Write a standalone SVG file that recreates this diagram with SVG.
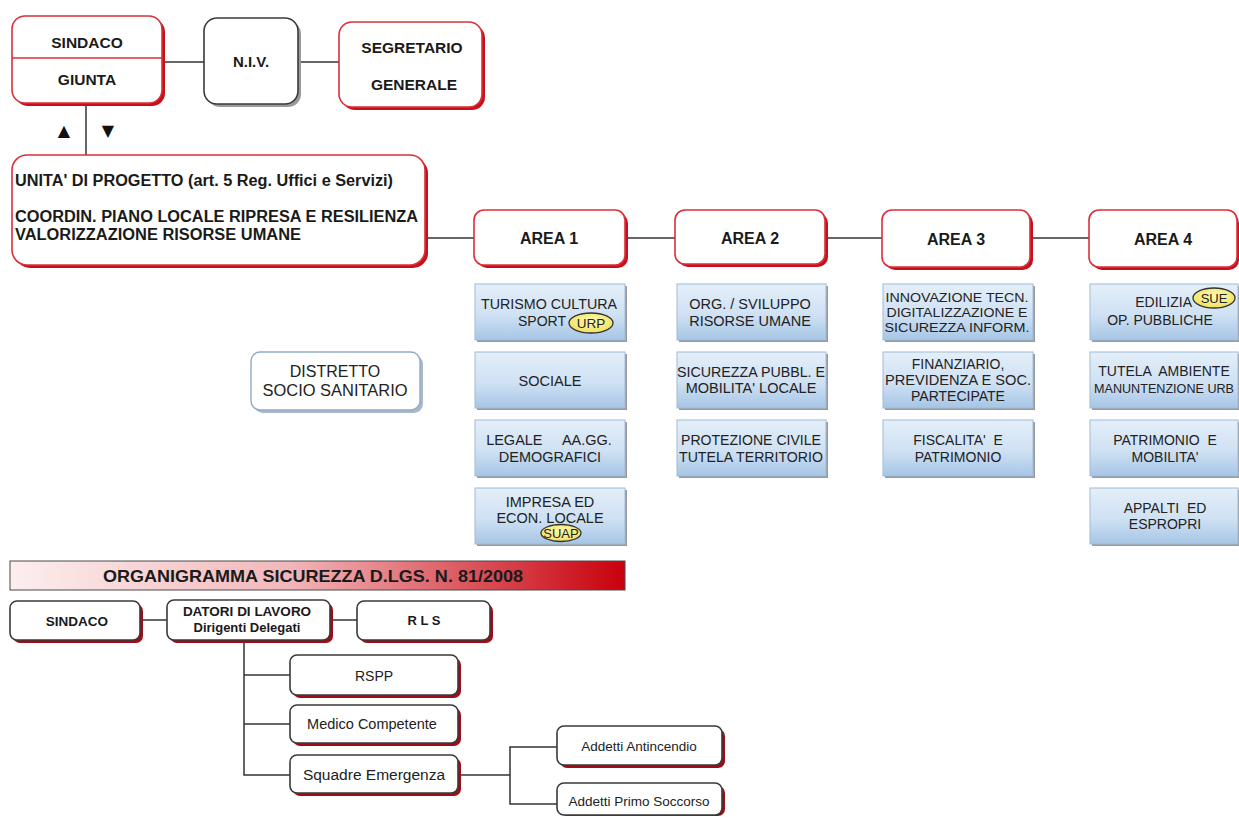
<svg xmlns="http://www.w3.org/2000/svg" width="1239" height="819" viewBox="0 0 1239 819">
<defs>
<linearGradient id="blue" x1="0" y1="0" x2="0" y2="1">
<stop offset="0" stop-color="#e4eff9"/>
<stop offset="0.55" stop-color="#cfe1f3"/>
<stop offset="1" stop-color="#a6c6e6"/>
</linearGradient>
<linearGradient id="banner" x1="0" y1="0" x2="1" y2="0">
<stop offset="0" stop-color="#fdeeee"/>
<stop offset="0.45" stop-color="#f2b8bb"/>
<stop offset="1" stop-color="#c8000c"/>
</linearGradient>
<radialGradient id="yel" cx="0.5" cy="0.4" r="0.6">
<stop offset="0" stop-color="#fffcb0"/>
<stop offset="1" stop-color="#f0e060"/>
</radialGradient>
</defs>
<style>
.bg{fill:#ffffff}
.red{fill:#ffffff;stroke:#d9303a;stroke-width:1.6}
.rsh{fill:#c8101c}
.gsh{fill:#9a9a9a}
.bsh{fill:#a9b8c8}
.dk{fill:#ffffff;stroke:#3a3a3a;stroke-width:1.6}
.dsh{fill:#9e0d16}
.blu{fill:url(#blue);stroke:#9fbcd8;stroke-width:1}
.dis{fill:#ffffff;stroke:#93aac6;stroke-width:1.4}
.ln{stroke:#333333;stroke-width:1.5;fill:none}
.tb{font-family:"Liberation Sans",Arial,sans-serif;font-weight:bold;fill:#1a1a1a;text-anchor:middle}
.tr{font-family:"Liberation Sans",Arial,sans-serif;fill:#222222;text-anchor:middle}
.bx{font-size:14.5px}
.ell{fill:url(#yel);stroke:#333333;stroke-width:1.3}
</style>
<rect x="0" y="0" width="1239" height="819" class="bg"/>

<g id="connectors">
<line class="ln" x1="162" y1="62" x2="204" y2="62"/>
<line class="ln" x1="298" y1="62" x2="339" y2="62"/>
<line class="ln" x1="86" y1="103" x2="86" y2="155"/>
<line class="ln" x1="425" y1="238" x2="474" y2="238"/>
<line class="ln" x1="625" y1="238" x2="675" y2="238"/>
<line class="ln" x1="825" y1="238" x2="882" y2="238"/>
<line class="ln" x1="1030" y1="238" x2="1089" y2="238"/>
<line class="ln" x1="140" y1="620" x2="167" y2="620"/>
<line class="ln" x1="330" y1="620" x2="357" y2="620"/>
<polyline class="ln" points="244,640 244,775 290,775"/>
<line class="ln" x1="244" y1="675" x2="290" y2="675"/>
<line class="ln" x1="244" y1="724" x2="290" y2="724"/>
<line class="ln" x1="458" y1="775" x2="510" y2="775"/>
<polyline class="ln" points="557,747 510,747 510,804 557,804"/>
</g>

<g id="arrows">
<text x="64" y="136" font-family="DejaVu Sans,sans-serif" font-size="16" text-anchor="middle" fill="#111">▲</text>
<text x="108" y="136" font-family="DejaVu Sans,sans-serif" font-size="16" text-anchor="middle" fill="#111">▼</text>
</g>

<g id="sindaco-giunta">
<rect class="rsh" x="15" y="19" width="150" height="87" rx="13"/>
<rect class="red" x="12" y="16" width="150" height="87" rx="13"/>
<line x1="12" y1="58" x2="162" y2="58" stroke="#d9303a" stroke-width="1.4"/>
<text class="tb" x="87" y="48" font-size="15.5">SINDACO</text>
<text class="tb" x="87" y="85" font-size="15.5">GIUNTA</text>
</g>

<g id="niv">
<rect class="gsh" x="207" y="21" width="94" height="86" rx="13"/>
<rect class="dk" x="204" y="18" width="94" height="86" rx="13"/>
<text class="tb" x="251" y="67" font-size="15">N.I.V.</text>
</g>

<g id="segretario">
<rect class="rsh" x="342" y="25" width="143" height="85" rx="13"/>
<rect class="red" x="339" y="22" width="143" height="85" rx="13"/>
<text class="tb" x="412" y="53" font-size="15.5">SEGRETARIO</text>
<text class="tb" x="414" y="90" font-size="15.5">GENERALE</text>
</g>

<g id="unita">
<rect class="rsh" x="15" y="158" width="413" height="110" rx="15"/>
<rect class="red" x="12" y="155" width="413" height="110" rx="15"/>
<text class="tb" x="15" y="186" font-size="16" style="text-anchor:start" textLength="378" lengthAdjust="spacingAndGlyphs">UNITA' DI PROGETTO (art. 5 Reg. Uffici e Servizi)</text>
<text class="tb" x="15" y="222" font-size="16" style="text-anchor:start" textLength="403" lengthAdjust="spacingAndGlyphs">COORDIN. PIANO LOCALE RIPRESA E RESILIENZA</text>
<text class="tb" x="15" y="240" font-size="16" style="text-anchor:start" textLength="286" lengthAdjust="spacingAndGlyphs">VALORIZZAZIONE RISORSE UMANE</text>
</g>

<g id="area1">
<rect class="rsh" x="477" y="213" width="151" height="55" rx="10"/>
<rect class="red" x="474" y="210" width="151" height="55" rx="10"/>
<text class="tb" x="549" y="244" font-size="16">AREA 1</text>
</g>
<g id="area2">
<rect class="rsh" x="678" y="213" width="150" height="54" rx="10"/>
<rect class="red" x="675" y="210" width="150" height="54" rx="10"/>
<text class="tb" x="750" y="244" font-size="16">AREA 2</text>
</g>
<g id="area3">
<rect class="rsh" x="885" y="213" width="148" height="57" rx="10"/>
<rect class="red" x="882" y="210" width="148" height="57" rx="10"/>
<text class="tb" x="956" y="245" font-size="16">AREA 3</text>
</g>
<g id="area4">
<rect class="rsh" x="1092" y="213" width="147" height="57" rx="10"/>
<rect class="red" x="1089" y="210" width="148" height="57" rx="10"/>
<text class="tb" x="1163" y="245" font-size="16">AREA 4</text>
</g>

<g id="turismo">
<rect class="gsh" x="477" y="286" width="150" height="56"/>
<rect class="blu" x="475" y="284" width="150" height="56"/>
<text class="tr" x="549" y="309" font-size="14" textLength="136" lengthAdjust="spacingAndGlyphs">TURISMO CULTURA</text>
<text class="tr" x="566" y="326" font-size="14" style="text-anchor:end">SPORT</text>
<ellipse class="ell" cx="591" cy="323" rx="22" ry="10"/>
<text class="tr" x="591" y="328" font-size="13.5">URP</text>
</g>
<g id="sociale">
<rect class="gsh" x="477" y="354" width="150" height="56"/>
<rect class="blu" x="475" y="352" width="150" height="56"/>
<text class="tr bx" x="550" y="386">SOCIALE</text>
</g>
<g id="legale">
<rect class="gsh" x="477" y="422" width="150" height="56"/>
<rect class="blu" x="475" y="420" width="150" height="56"/>
<text class="tr bx" x="549" y="445" xml:space="preserve">LEGALE     AA.GG.</text>
<text class="tr bx" x="550" y="462">DEMOGRAFICI</text>
</g>
<g id="impresa">
<rect class="gsh" x="477" y="490" width="150" height="56"/>
<rect class="blu" x="475" y="488" width="150" height="56"/>
<text class="tr bx" x="550" y="507">IMPRESA ED</text>
<text class="tr bx" x="550" y="523">ECON. LOCALE</text>
<ellipse class="ell" cx="561" cy="533" rx="20" ry="8.5"/>
<text class="tr" x="561" y="538" font-size="13">SUAP</text>
</g>

<g id="org-sviluppo">
<rect class="gsh" x="679" y="286" width="149" height="56"/>
<rect class="blu" x="677" y="284" width="149" height="56"/>
<text class="tr bx" x="750" y="309">ORG. / SVILUPPO</text>
<text class="tr bx" x="750" y="326">RISORSE UMANE</text>
</g>
<g id="sicurezza-pubbl">
<rect class="gsh" x="679" y="354" width="149" height="56"/>
<rect class="blu" x="677" y="352" width="149" height="56"/>
<text class="tr bx" x="751" y="377" textLength="148" lengthAdjust="spacingAndGlyphs">SICUREZZA PUBBL. E</text>
<text class="tr bx" x="751" y="393">MOBILITA' LOCALE</text>
</g>
<g id="protezione">
<rect class="gsh" x="679" y="422" width="149" height="56"/>
<rect class="blu" x="677" y="420" width="149" height="56"/>
<text class="tr bx" x="751" y="445" textLength="140" lengthAdjust="spacingAndGlyphs">PROTEZIONE CIVILE</text>
<text class="tr bx" x="751" y="462" textLength="144" lengthAdjust="spacingAndGlyphs">TUTELA TERRITORIO</text>
</g>

<g id="innovazione">
<rect class="gsh" x="885" y="286" width="150" height="56"/>
<rect class="blu" x="883" y="284" width="150" height="56"/>
<text class="tr" x="957" y="302" font-size="13.5" textLength="143" lengthAdjust="spacingAndGlyphs">INNOVAZIONE TECN.</text>
<text class="tr" x="957" y="317" font-size="13.5" textLength="141" lengthAdjust="spacingAndGlyphs">DIGITALIZZAZIONE E</text>
<text class="tr" x="957" y="332" font-size="13.5" textLength="145" lengthAdjust="spacingAndGlyphs">SICUREZZA INFORM.</text>
</g>
<g id="finanziario">
<rect class="gsh" x="885" y="354" width="150" height="56"/>
<rect class="blu" x="883" y="352" width="150" height="56"/>
<text class="tr" x="958" y="369" font-size="14">FINANZIARIO,</text>
<text class="tr" x="958" y="385" font-size="14" textLength="146" lengthAdjust="spacingAndGlyphs">PREVIDENZA E SOC.</text>
<text class="tr" x="958" y="401" font-size="14">PARTECIPATE</text>
</g>
<g id="fiscalita">
<rect class="gsh" x="885" y="422" width="150" height="56"/>
<rect class="blu" x="883" y="420" width="150" height="56"/>
<text class="tr" x="958" y="445" font-size="14" xml:space="preserve">FISCALITA'  E</text>
<text class="tr" x="958" y="462" font-size="14">PATRIMONIO</text>
</g>

<g id="edilizia">
<rect class="gsh" x="1092" y="286" width="147" height="56"/>
<rect class="blu" x="1090" y="284" width="148" height="56"/>
<text class="tr" x="1192" y="307" font-size="14" style="text-anchor:end">EDILIZIA</text>
<ellipse class="ell" cx="1214" cy="298" rx="21" ry="10"/>
<text class="tr" x="1214" y="303" font-size="13">SUE</text>
<text class="tr" x="1160" y="325" font-size="14">OP. PUBBLICHE</text>
</g>
<g id="tutela-ambiente">
<rect class="gsh" x="1092" y="354" width="147" height="56"/>
<rect class="blu" x="1090" y="352" width="148" height="56"/>
<text class="tr" x="1164" y="376" font-size="14" xml:space="preserve">TUTELA  AMBIENTE</text>
<text class="tr" x="1164" y="393" font-size="12.6">MANUNTENZIONE URB</text>
</g>
<g id="patrimonio">
<rect class="gsh" x="1092" y="422" width="147" height="56"/>
<rect class="blu" x="1090" y="420" width="148" height="56"/>
<text class="tr" x="1165" y="445" font-size="14" xml:space="preserve">PATRIMONIO  E</text>
<text class="tr" x="1165" y="462" font-size="14">MOBILITA'</text>
</g>
<g id="appalti">
<rect class="gsh" x="1092" y="490" width="147" height="56"/>
<rect class="blu" x="1090" y="488" width="148" height="56"/>
<text class="tr" x="1165" y="513" font-size="14" xml:space="preserve">APPALTI  ED</text>
<text class="tr" x="1165" y="529" font-size="14">ESPROPRI</text>
</g>

<g id="distretto">
<rect class="bsh" x="254" y="355" width="169" height="58" rx="9"/>
<rect class="dis" x="251" y="352" width="169" height="58" rx="9"/>
<text class="tr" x="335" y="377" font-size="16">DISTRETTO</text>
<text class="tr" x="335" y="396" font-size="16" textLength="145" lengthAdjust="spacingAndGlyphs">SOCIO SANITARIO</text>
</g>

<g id="banner">
<rect x="10" y="561" width="615" height="29" fill="url(#banner)" stroke="#4a4a4a" stroke-width="1"/>
<text class="tb" x="313" y="582" font-size="16.5" textLength="420" lengthAdjust="spacingAndGlyphs">ORGANIGRAMMA SICUREZZA D.LGS. N. 81/2008</text>
</g>

<g id="sindaco2">
<rect class="dsh" x="13" y="604" width="130" height="39" rx="7"/>
<rect class="dk" x="10" y="601" width="130" height="39" rx="7"/>
<text class="tb" x="77" y="626" font-size="13.5">SINDACO</text>
</g>
<g id="datori">
<rect class="dsh" x="170" y="603" width="163" height="40" rx="7"/>
<rect class="dk" x="167" y="600" width="163" height="40" rx="7"/>
<text class="tb" x="247" y="616" font-size="13.5">DATORI DI LAVORO</text>
<text class="tb" x="247" y="632" font-size="13">Dirigenti Delegati</text>
</g>
<g id="rls">
<rect class="dsh" x="360" y="604" width="133" height="39" rx="7"/>
<rect class="dk" x="357" y="601" width="133" height="39" rx="7"/>
<text class="tb" x="424" y="625" font-size="13" xml:space="preserve">R L S</text>
</g>
<g id="rspp">
<rect class="dsh" x="293" y="658" width="168" height="40" rx="7"/>
<rect class="dk" x="290" y="655" width="168" height="40" rx="7"/>
<text class="tr" x="374" y="681" font-size="14">RSPP</text>
</g>
<g id="medico">
<rect class="dsh" x="293" y="708" width="168" height="38" rx="7"/>
<rect class="dk" x="290" y="705" width="168" height="38" rx="7"/>
<text class="tr" x="372" y="729" font-size="14.5">Medico Competente</text>
</g>
<g id="squadre">
<rect class="dsh" x="293" y="758" width="168" height="38" rx="7"/>
<rect class="dk" x="290" y="755" width="168" height="38" rx="7"/>
<text class="tr" x="374" y="780" font-size="15.5">Squadre Emergenza</text>
</g>
<g id="antincendio">
<rect class="dsh" x="560" y="729" width="165" height="39" rx="7"/>
<rect class="dk" x="557" y="726" width="165" height="39" rx="7"/>
<text class="tr" x="639" y="751" font-size="13.5">Addetti Antincendio</text>
</g>
<g id="primo-soccorso">
<rect class="dsh" x="560" y="786" width="165" height="30" rx="7"/>
<rect class="dk" x="557" y="783" width="165" height="32" rx="7"/>
<text class="tr" x="639" y="806" font-size="13.5">Addetti Primo Soccorso</text>
</g>
</svg>
